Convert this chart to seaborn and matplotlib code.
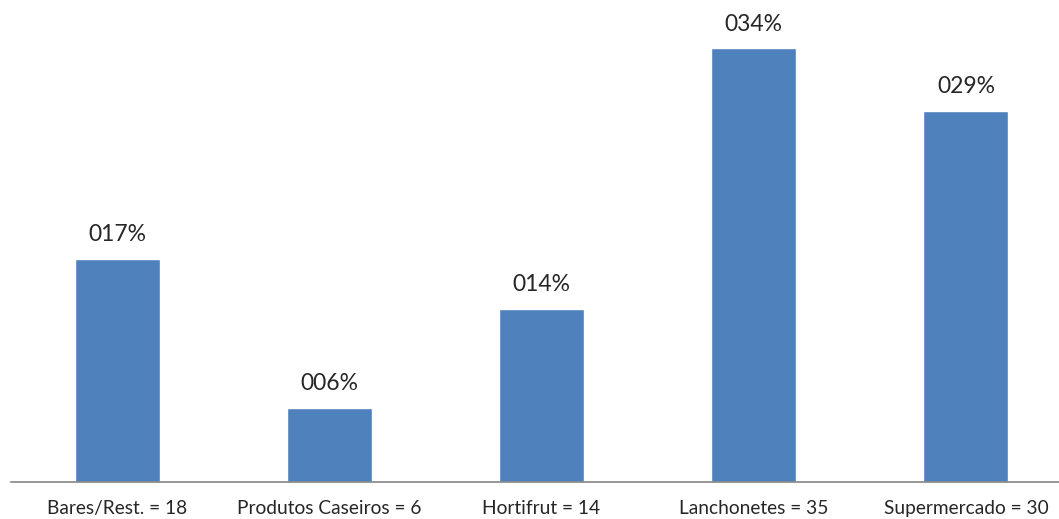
import matplotlib
matplotlib.use('Agg')
import matplotlib.pyplot as plt
import seaborn as sns
import pandas as pd

categories = ['Bares/Rest. = 18', 'Produtos Caseiros = 6', 'Hortifrut = 14',
              'Lanchonetes = 35', 'Supermercado = 30']
percent = [17.5, 5.8, 13.6, 34.0, 29.1]
bar_labels = ['017%', '006%', '014%', '034%', '029%']

df = pd.DataFrame({'cat': categories, 'pct': percent})

sns.set_style('white')
plt.rcParams['font.family'] = ['Lato', 'DejaVu Sans']

fig = plt.figure(figsize=(10.59, 5.19), dpi=100)
# axes run a bit past the right edge, like the cropped original
ax = fig.add_axes([11 / 1059, 37 / 519, 1061 / 1059, 482 / 519])

sns.barplot(data=df, x='cat', y='pct', color='#4F81BD', saturation=1,
            width=0.4, ax=ax)

ax.set_xlim(-0.5, 4.5)
ax.set_ylim(0, 37.8)
for i, txt in enumerate(bar_labels):
    ax.annotate(txt, (i, percent[i]), xytext=(0, 10), textcoords='offset points',
                ha='center', va='bottom', fontsize=16.5)

ax.set_xlabel('')
ax.set_ylabel('')
ax.set_yticks([])
ax.tick_params(axis='x', length=0, labelsize=13.8, pad=13)
for s in ['top', 'right', 'left']:
    ax.spines[s].set_visible(False)
ax.spines['bottom'].set_color('#868686')
ax.spines['bottom'].set_linewidth(1.2)

fig.savefig('out.png', dpi=100)
